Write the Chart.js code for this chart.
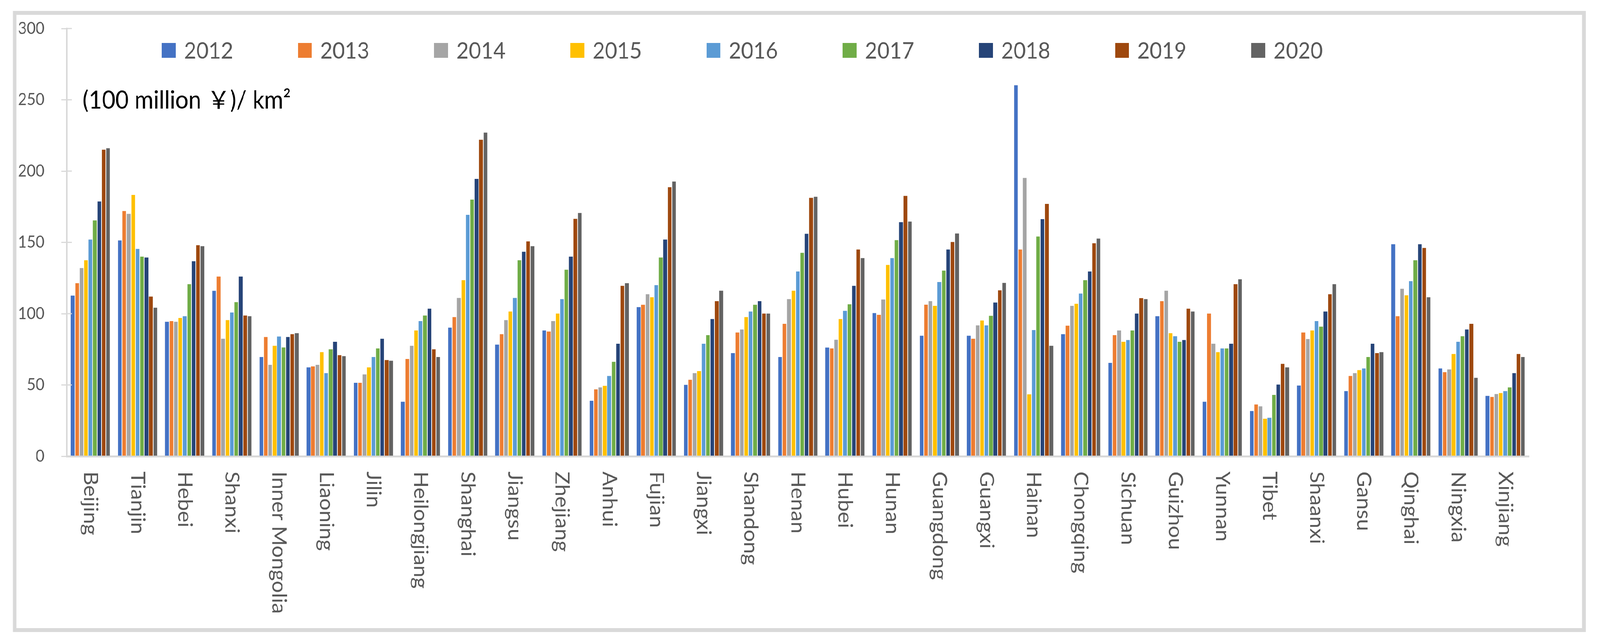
<!DOCTYPE html>
<html>
<head>
<meta charset="utf-8">
<script src="https://cdn.jsdelivr.net/npm/chart.js@4.4.1/dist/chart.umd.min.js"></script>
<style>
    html, body { margin: 0; padding: 0; background: #ffffff; overflow: hidden; }
    #page { width: 4382px; height: 1641px; position: absolute; left: 0; top: 0; transform-origin: 0 0; }
    #frame {
        position: absolute; left: 35px; top: 28px;
        width: 4308px; height: 1590px; box-sizing: border-box;
        border: 10px solid #d9d9d9; background: #ffffff;
    }
    #densityChart { display: block; }
</style>
</head>
<body>
<div id="page">
    <div id="frame">
        <canvas id="densityChart" width="4288" height="1570" style="width:4288px;height:1570px"></canvas>
    </div>
</div>
<script>
// Provinces on the x axis
const provinces = ['Beijing', 'Tianjin', 'Hebei', 'Shanxi', 'Inner Mongolia', 'Liaoning', 'Jilin', 'Heilongjiang',
    'Shanghai', 'Jiangsu', 'Zhejiang', 'Anhui', 'Fujian', 'Jiangxi', 'Shandong', 'Henan', 'Hubei', 'Hunan',
    'Guangdong', 'Guangxi', 'Hainan', 'Chongqing', 'Sichuan', 'Guizhou', 'Yunnan', 'Tibet', 'Shaanxi', 'Gansu',
    'Qinghai', 'Ningxia', 'Xinjiang'];

const years = ['2012', '2013', '2014', '2015', '2016', '2017', '2018', '2019', '2020'];

// values, (100 million yuan) per km2
const v2012 = [112.7, 151.4, 94.3, 116, 69.6, 62.3, 51.5, 38.2, 90.2, 78.3, 88.2, 38.9, 104.6, 50.1, 72.3, 69.6,
    76.2, 100.4, 84.5, 84.5, 260.2, 85.6, 65.5, 98.2, 38.2, 31.7, 49.6, 45.7, 148.7, 61.6, 42.3];
const v2013 = [121.4, 172, 94.8, 126, 83.6, 63, 51.5, 68.2, 97.6, 85.6, 87.5, 46.9, 106.2, 53.6, 86.8, 92.9,
    75.6, 99.2, 106.3, 82.4, 145, 91.6, 84.9, 108.8, 100.1, 36.3, 86.8, 56.3, 98.2, 59, 41.6];
const v2014 = [132, 170, 94.3, 82.4, 64.1, 64.1, 57.4, 77.5, 111, 95.5, 94.8, 48.3, 113.6, 58.3, 88.9, 110.2,
    81.7, 109.9, 108.8, 91.8, 195.2, 105.5, 88.2, 116.1, 78.9, 35, 82.2, 58.3, 117.5, 60.9, 43.6];
const v2015 = [137.5, 183.3, 97, 95.5, 77.5, 73, 62.3, 88.2, 123.5, 101.5, 100.1, 49.4, 111.5, 59.7, 97.6, 116.1,
    96.2, 134.2, 105.5, 95.2, 43.4, 106.9, 80.3, 86.3, 73, 26.3, 88.2, 60.4, 112.9, 71.7, 44.3];
const v2016 = [152, 145.4, 98.2, 100.8, 84, 58.3, 69.6, 94.8, 169.3, 111, 110.2, 56.3, 120, 78.9, 101.5, 129.6,
    102, 139, 122.2, 91.8, 88.5, 114.1, 81.5, 84.2, 75.6, 27, 94.8, 61.6, 122.8, 80.3, 45.7];
const v2017 = [165.4, 140, 120.7, 108.1, 76.3, 75, 75.6, 98.7, 180, 137.5, 130.8, 66.2, 139.4, 84.9, 106.2, 142.7,
    106.6, 151.6, 130.2, 98.5, 154.1, 123.5, 88.2, 80.3, 75.6, 43, 90.9, 69.6, 137.5, 84.2, 48.3];
const v2018 = [178.7, 139.4, 136.8, 126, 83.6, 80.3, 82.4, 103.5, 194.5, 143.4, 140, 78.9, 152, 96.2, 108.8, 156,
    119.5, 164.2, 145, 107.8, 166.3, 129.6, 100.1, 81.5, 78.9, 50.3, 101.5, 78.9, 148.7, 88.9, 58.3];
const v2019 = [215, 112, 148, 98.7, 85.6, 70.9, 67.5, 75, 222, 150.7, 166.5, 119.5, 188.7, 108.8, 100.1, 181.2,
    145, 182.6, 150.3, 116.4, 177, 149.4, 110.9, 103.5, 120.7, 64.8, 113.6, 72.3, 146.1, 92.9, 71.7];
const v2020 = [216, 104.2, 147.3, 98.2, 86.3, 70.2, 67, 69.6, 227, 147.3, 170.6, 121.4, 192.7, 116.1, 100.1, 182,
    139, 164.6, 156.2, 121.6, 77.5, 152.7, 110.2, 101.5, 124.1, 62.3, 120.7, 73, 111.5, 55, 69.6];

const yTicks = [0, 50, 100, 150, 200, 250, 300];
const unitLabel = '(100 million ￥)/ km²';

const seriesValues = [v2012, v2013, v2014, v2015, v2016, v2017, v2018, v2019, v2020];
const seriesColors = ['#4472C4', '#ED7D31', '#A5A5A5', '#FFC000', '#5B9BD5', '#70AD47', '#264478', '#9E480E', '#636363'];

const FONT = 'Lato, "Noto Sans", "Noto Sans CJK SC", sans-serif';

// legend, unit label and rotated province names drawn over the chart
const overlayText = {
    id: 'overlayText',
    afterDraw(chart) {
        const ctx = chart.ctx;
        const area = chart.chartArea;
        const xScale = chart.scales.x;
        const yScale = chart.scales.y;
        ctx.save();

        // inner half of the cross tick marks on the y axis
        ctx.strokeStyle = '#d9d9d9';
        ctx.lineWidth = 3;
        yScale.ticks.forEach(t => {
            const y = yScale.getPixelForValue(t.value);
            ctx.beginPath();
            ctx.moveTo(area.left, y);
            ctx.lineTo(area.left + 14, y);
            ctx.stroke();
        });

        // legend row, sits inside the plot area like the Excel original
        ctx.font = '58px ' + FONT;
        ctx.textBaseline = 'middle';
        ctx.textAlign = 'left';
        chart.data.datasets.forEach((ds, i) => {
            const x = area.left + 260 + i * 373;
            const yc = 91;
            ctx.fillStyle = ds.backgroundColor;
            ctx.fillRect(x, yc - 19, 38, 38);
            ctx.fillStyle = '#595959';
            ctx.fillText(ds.label, x + 61, yc + 2);
        });

        // unit label next to the 250 tick
        ctx.font = '63px ' + FONT;
        ctx.fillStyle = '#000000';
        ctx.fillText(unitLabel, area.left + 43, yScale.getPixelForValue(250) + 2);

        // province names, rotated to read top to bottom
        ctx.font = '55px ' + FONT;
        ctx.fillStyle = '#595959';
        provinces.forEach((name, i) => {
            const x = xScale.getPixelForValue(i);
            ctx.save();
            ctx.translate(x, area.bottom + 39);
            ctx.rotate(Math.PI / 2);
            ctx.textAlign = 'left';
            ctx.textBaseline = 'middle';
            ctx.fillText(name, 0, 0);
            ctx.restore();
        });

        ctx.restore();
    }
};

// fit the 4382x1641 design into whatever viewport the browser gives
function fitPage() {
    const page = document.getElementById('page');
    const sx = window.innerWidth / 4382;
    const sy = window.innerHeight / 1641;
    page.style.transform = 'scale(' + sx + ',' + sy + ')';
}

document.addEventListener('DOMContentLoaded', function() {
    fitPage();
    const ctx = document.getElementById('densityChart');

    const datasets = years.map((year, i) => ({
        label: year,
        data: seriesValues[i],
        backgroundColor: seriesColors[i],
        borderWidth: 0,
        barPercentage: 0.84,
        categoryPercentage: 0.845
    }));

    new Chart(ctx, {
        type: 'bar',
        data: {
            labels: provinces,
            datasets: datasets
        },
        options: {
            responsive: false,
            animation: false,
            devicePixelRatio: 1,
            layout: {
                padding: { top: 35, right: 146, bottom: 0, left: 0 }
            },
            plugins: {
                legend: { display: false },
                tooltip: { enabled: false }
            },
            scales: {
                x: {
                    grid: { display: false },
                    border: { display: true, color: '#d9d9d9', width: 5 },
                    ticks: { display: false },
                    afterFit: function(scale) { scale.height = 440; }
                },
                y: {
                    min: 0,
                    max: 300,
                    afterBuildTicks: function(scale) {
                        scale.ticks = yTicks.map(v => ({ value: v }));
                    },
                    grid: {
                        display: true,
                        drawOnChartArea: false,
                        drawTicks: true,
                        tickLength: 15,
                        color: '#d9d9d9',
                        lineWidth: 3
                    },
                    border: { display: true, color: '#d9d9d9', width: 4 },
                    ticks: {
                        padding: 46,
                        color: '#595959',
                        font: { family: FONT, size: 42 }
                    },
                    afterFit: function(scale) {
                        // keep the plot top on the layout padding, not label padding
                        scale.width = 138;
                        scale.paddingTop = 0;
                        scale.paddingBottom = 0;
                    }
                }
            }
        },
        plugins: [overlayText]
    });
});
</script>
</body>
</html>
